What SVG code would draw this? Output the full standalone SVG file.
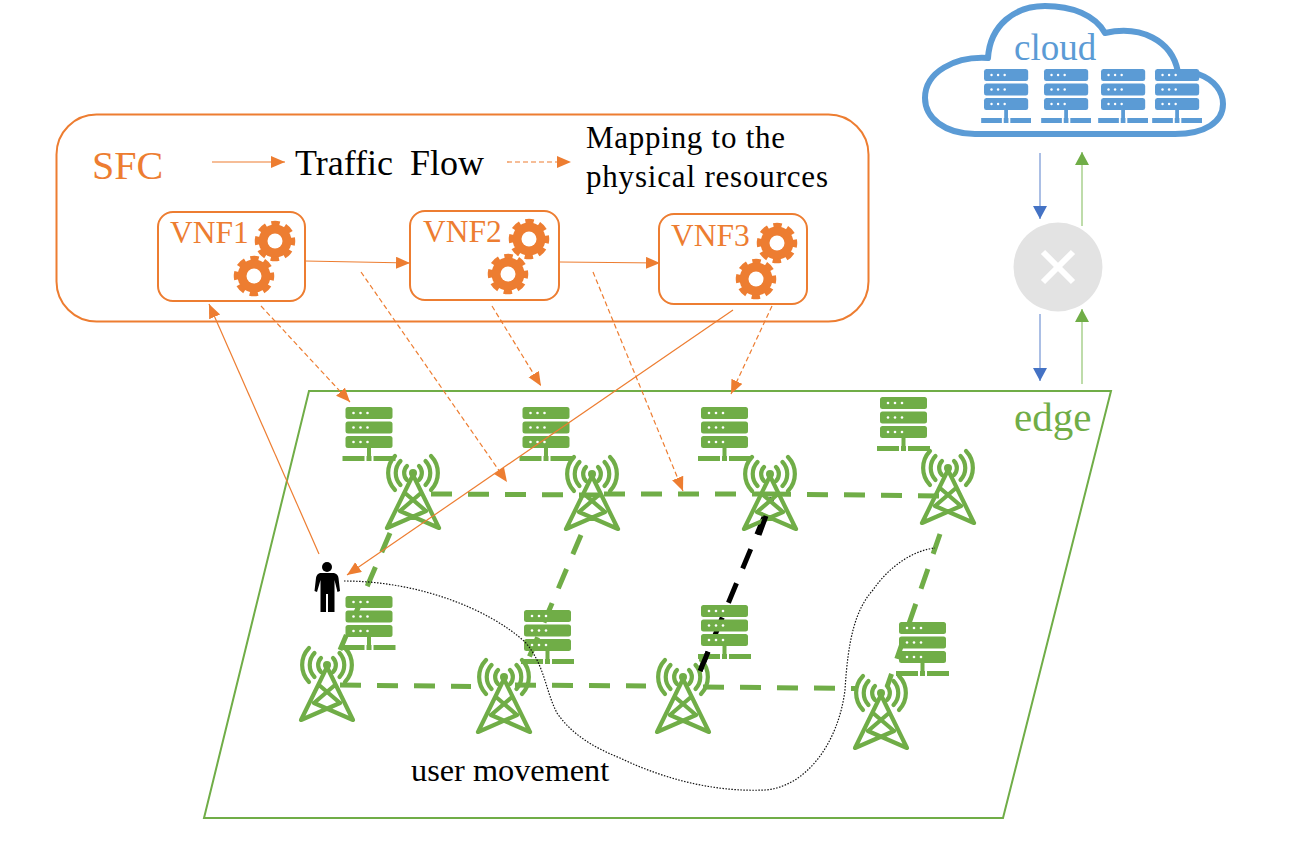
<svg xmlns="http://www.w3.org/2000/svg" xmlns:xlink="http://www.w3.org/1999/xlink" width="1299" height="859" viewBox="0 0 1299 859">
<style>
text{font-family:"Liberation Serif","Times New Roman",serif}
.gr{fill:#70ad47}.bl{fill:#5b9bd5}
.box{fill:#fff;stroke:#ed7d31;stroke-width:2}
.of{stroke:#ed7d31;stroke-width:1.200;fill:none}
.od{stroke:#ed7d31;stroke-width:1.200;fill:none;stroke-dasharray:5 3}
.link{stroke:#70ad47;stroke-width:5;fill:none;stroke-dasharray:21 16}
.blk{stroke:#000;stroke-width:5;fill:none;stroke-dasharray:21 16}
.tw{fill:none;stroke:#70ad47;stroke-width:4.200;stroke-linecap:round;stroke-linejoin:round}
.dot{fill:#fff}
</style>
<defs>
<marker id="ao" markerUnits="userSpaceOnUse" markerWidth="15" markerHeight="13" refX="14" refY="6" orient="auto"><path d="M0 0L14 6L0 12z" fill="#ed7d31"/></marker>
<marker id="ab" markerUnits="userSpaceOnUse" markerWidth="14" markerHeight="14" refX="13" refY="7" orient="auto"><path d="M0 0L13 7L0 14z" fill="#4472c4"/></marker>
<marker id="ag" markerUnits="userSpaceOnUse" markerWidth="14" markerHeight="14" refX="13" refY="7" orient="auto"><path d="M0 0L13 7L0 14z" fill="#70ad47"/></marker>
<g id="srv">
<rect x="0" y="0" width="47" height="12" rx="2.500"/><rect x="0" y="14.500" width="47" height="12" rx="2.500"/><rect x="0" y="29" width="47" height="12" rx="2.500"/>
<rect x="21.500" y="41" width="4" height="8"/><rect x="-3" y="49" width="22" height="5"/><rect x="21" y="49" width="5" height="5"/><rect x="28" y="49" width="22" height="5"/>
<circle class="dot" cx="8" cy="6" r="1.300"/><circle class="dot" cx="15" cy="6" r="1.300"/><circle class="dot" cx="22" cy="6" r="1.300"/>
<circle class="dot" cx="8" cy="20.500" r="1.300"/><circle class="dot" cx="15" cy="20.500" r="1.300"/><circle class="dot" cx="22" cy="20.500" r="1.300"/>
<circle class="dot" cx="8" cy="35" r="1.300"/><circle class="dot" cx="15" cy="35" r="1.300"/><circle class="dot" cx="22" cy="35" r="1.300"/>
</g>
<g id="tower">
<circle cx="0" cy="0" r="4" fill="#70ad47"/>
<path class="tw" d="M0 2L-26 55L13 38L-8 20M0 2L26 55L-13 38L8 20"/>
<path class="tw" d="M-6 7A10 10 0 0 1-6 -7M6 7A10 10 0 0 0 6 -7M-12.500 12A17.500 17.500 0 0 1-12.500 -12M12.500 12A17.500 17.500 0 0 0 12.500 -12M-18 17A24.500 24.500 0 0 1-18 -17M18 17A24.500 24.500 0 0 0 18 -17"/>
</g>
<g id="gear">
<circle r="16.500" fill="#ed7d31"/>
<circle r="18" fill="none" stroke="#ed7d31" stroke-width="4.500" stroke-dasharray="8.500 5.637" stroke-dashoffset="4.250"/>
<circle r="7.500" fill="#fff"/>
</g>
</defs>

<g id="cloud">
<path d="M988 58C990 25 1015 6 1045 6C1072 6 1095 15 1105 33C1140 25 1172 40 1178 72L1198 74C1215 80 1223 92 1223 104C1223 122 1205 134 1175 134H975C945 134 925 118 925 98C925 72 955 56 988 58Z" fill="#fff" stroke="#5b9bd5" stroke-width="6" stroke-linejoin="round"/>
<text x="1014" y="60" font-size="37" fill="#5b9bd5">cloud</text>
<g class="bl">
<use xlink:href="#srv" href="#srv" transform="translate(984 69) scale(.94 1)"/>
<use xlink:href="#srv" href="#srv" transform="translate(1044 69) scale(.94 1)"/>
<use xlink:href="#srv" href="#srv" transform="translate(1101 69) scale(.94 1)"/>
<use xlink:href="#srv" href="#srv" transform="translate(1155 69) scale(.94 1)"/>
</g>
</g>

<g id="edge">
<path d="M309 391H1111L1003 818H204Z" fill="#fff" stroke="#70ad47" stroke-width="2"/>
<text x="1014" y="431" font-size="41" fill="#70ad47">edge</text>
</g>

<g id="links">
<path class="link" d="M431 494L600 495M604 494L770 494M770 494L940 496"/>
<path class="link" d="M340 685L471 686.500M515 685L646 686M703 687L856 688.500"/>
<path class="link" d="M390 533L340 650M581 535L528 660M940 534L887 687"/>
<path class="blk" d="M700 671L772 498"/>
</g>

<g id="switch">
<circle cx="1058" cy="267" r="44.500" fill="#e3e3e3"/>
<path d="M1043 252L1073 282M1073 252L1043 282" stroke="#fff" stroke-width="6" fill="none"/>
</g>

<g id="sfc">
<rect x="56.500" y="114.500" width="812" height="207" rx="40" fill="none" stroke="#ed7d31" stroke-width="2"/>
<text x="92" y="179" font-size="40" fill="#ed7d31">SFC</text>
<text x="295" y="175" font-size="36" fill="#000" word-spacing="8">Traffic Flow</text>
<text x="586" y="148" font-size="31" fill="#000" textLength="199">Mapping to the</text>
<text x="586" y="187" font-size="31" fill="#000" textLength="242">physical resources</text>
</g>

<g id="vnf1">
<rect class="box" x="158" y="212" width="147" height="89" rx="15"/>
<text x="170" y="243" font-size="31.500" fill="#ed7d31">VNF1</text>
<use xlink:href="#gear" href="#gear" x="275" y="241"/><use xlink:href="#gear" href="#gear" x="254" y="276"/>
</g>
<g id="vnf2">
<rect class="box" x="410" y="211" width="149" height="89" rx="15"/>
<text x="423" y="242" font-size="31.500" fill="#ed7d31">VNF2</text>
<use xlink:href="#gear" href="#gear" x="529" y="239"/><use xlink:href="#gear" href="#gear" x="508" y="274"/>
</g>
<g id="vnf3">
<rect class="box" x="659" y="214" width="148" height="90" rx="15"/>
<text x="671" y="246" font-size="31.500" fill="#ed7d31">VNF3</text>
<use xlink:href="#gear" href="#gear" x="777" y="243"/><use xlink:href="#gear" href="#gear" x="756" y="279"/>
</g>

<g id="servers" class="gr">
<use xlink:href="#srv" href="#srv" x="345.500" y="407"/>
<use xlink:href="#srv" href="#srv" x="522.500" y="407"/>
<use xlink:href="#srv" href="#srv" x="701" y="407"/>
<use xlink:href="#srv" href="#srv" x="880" y="397"/>
<use xlink:href="#srv" href="#srv" x="345.500" y="596"/>
<use xlink:href="#srv" href="#srv" x="524" y="610"/>
<use xlink:href="#srv" href="#srv" x="701" y="605"/>
<use xlink:href="#srv" href="#srv" x="899" y="622"/>
</g>

<g id="towers">
<use xlink:href="#tower" href="#tower" x="413" y="473"/>
<use xlink:href="#tower" href="#tower" x="592" y="474"/>
<use xlink:href="#tower" href="#tower" x="770" y="474"/>
<use xlink:href="#tower" href="#tower" x="948" y="468"/>
<use xlink:href="#tower" href="#tower" x="327" y="665"/>
<use xlink:href="#tower" href="#tower" x="504" y="677"/>
<use xlink:href="#tower" href="#tower" x="683" y="677"/>
<use xlink:href="#tower" href="#tower" x="881" y="693"/>
</g>

<g id="connectors">
<path d="M700 671L708 652M759 535L766 516" stroke="#000" stroke-width="5" fill="none"/>
<path d="M344 581C420 581 490 610 525 642C545 665 545 690 557 713C572 735 595 748 620 758C670 782 720 792 765 790C805 787 838 745 845 690C848 640 855 610 873 590C890 565 915 550 935 548" fill="none" stroke="#111" stroke-width="1.200" stroke-dasharray="1.500 1.500"/>
<path class="of" d="M212 162H285" marker-end="url(#ao)"/>
<path class="od" d="M507 162H571" marker-end="url(#ao)"/>
<path class="of" d="M305 261L410 263" marker-end="url(#ao)"/>
<path class="of" d="M560 262L660 263" marker-end="url(#ao)"/>
<path class="of" d="M319 554L209 304" marker-end="url(#ao)"/>
<path class="of" d="M733 310L347 575" marker-end="url(#ao)"/>
<path class="od" d="M261 306L350 402" marker-end="url(#ao)"/>
<path class="od" d="M492 306L541 386" marker-end="url(#ao)"/>
<path class="od" d="M772 306L731 394" marker-end="url(#ao)"/>
<path class="od" d="M361 272L507 482" marker-end="url(#ao)"/>
<path class="od" d="M593 272L683 491" marker-end="url(#ao)"/>
<path d="M1040 153V219" stroke="#8faadc" stroke-width="1.500" fill="none" marker-end="url(#ab)"/>
<path d="M1040 314V381" stroke="#8faadc" stroke-width="1.500" fill="none" marker-end="url(#ab)"/>
<path d="M1082 226V152" stroke="#a9d18e" stroke-width="1.500" fill="none" marker-end="url(#ag)"/>
<path d="M1082 384V309" stroke="#a9d18e" stroke-width="1.500" fill="none" marker-end="url(#ag)"/>
</g>

<g id="user">
<circle cx="327" cy="567" r="5"/>
<path d="M320 573H334Q338 574 338.500 578L340 591L337.500 592L334.500 580V612H328V594H326V612H320.500V580L317 592L314.500 591L316 578Q316.500 574 320 573Z"/>
</g>
<text id="movement" x="411" y="781" font-size="32.300" fill="#000">user movement</text>
</svg>
